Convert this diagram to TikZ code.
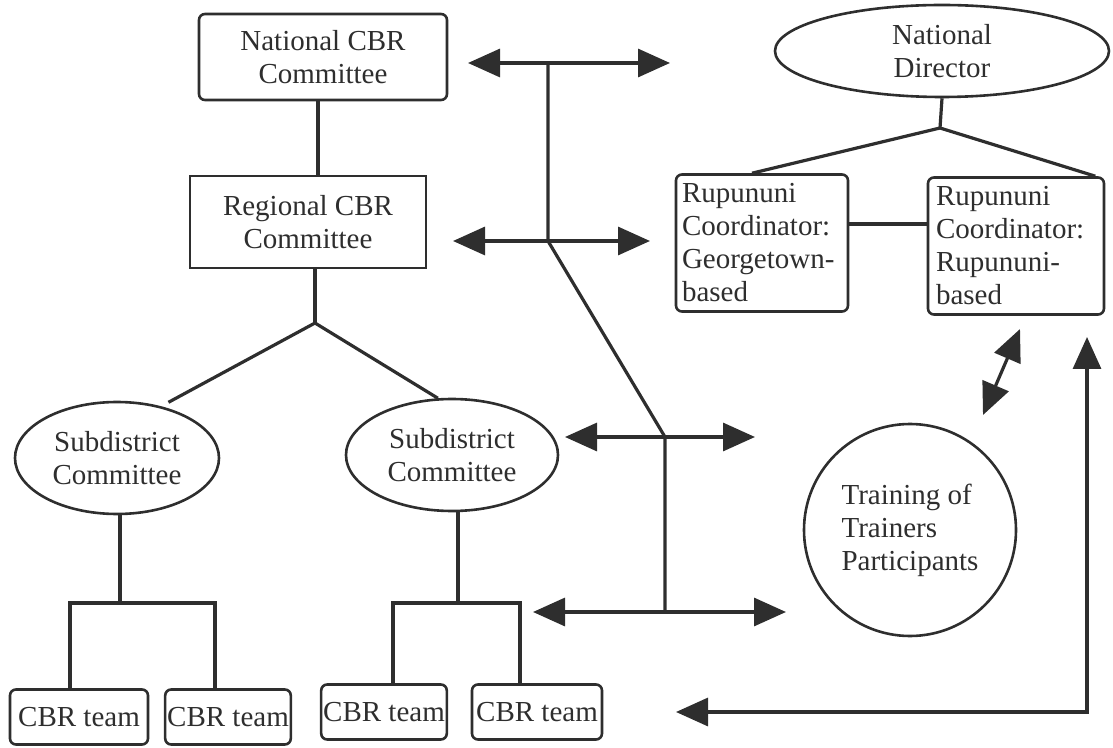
\documentclass[tikz,border=0pt]{standalone}
\usepackage{fontspec}
\setmainfont{Liberation Serif}
\usetikzlibrary{positioning,arrows.meta,shapes.geometric}
\definecolor{ink}{HTML}{2E2E2E}
\tikzset{
  orgbox/.style={rectangle,draw=ink,line width=1.3pt,rounded corners=3pt,align=center,inner sep=2pt},
  coordbox/.style={orgbox,align=left,text width=80pt,minimum height=68.5pt},
  teambox/.style={orgbox,minimum height=27.5pt,inner sep=1pt},
  orgoval/.style={ellipse,draw=ink,line width=1.3pt,align=center,inner sep=0pt},
  link/.style={draw=ink,line width=1.6pt},
  twoway/.style={link,{Triangle[length=16pt,width=14pt]}-{Triangle[length=16pt,width=14pt]}}
}

\begin{document}
\begin{tikzpicture}[x=0.5pt,y=-0.5pt,font=\fontsize{14.5}{16.5}\selectfont,text=ink]
  \useasboundingbox (0,0) rectangle (1113,748);
  % left hierarchy
  \node[orgbox,minimum width=124pt,minimum height=43pt] (ncc) at (323,57) {National CBR\\Committee};
  \node[orgbox,rounded corners=0pt,minimum width=118pt,minimum height=46pt] (rcc) at (308,222) {Regional CBR\\Committee};
  \node[orgoval,minimum width=102pt,minimum height=56pt] (sd1) at (117,458) {Subdistrict\\Committee};
  \node[orgoval,minimum width=106pt,minimum height=56pt] (sd2) at (452,455) {Subdistrict\\Committee};
  \node[teambox,minimum width=69pt] (t1) at (79,717) {CBR team};
  \node[teambox,minimum width=62pt] (t2) at (228,717) {CBR team};
  \node[teambox,minimum width=62pt] (t3) at (384,712) {CBR team};
  \node[teambox,minimum width=65pt] (t4) at (537,712) {CBR team};

  % right hierarchy
  \node[orgoval,minimum width=167pt,minimum height=46pt] (nd) at (942,51) {National\\Director};
  \node[coordbox,minimum width=86pt] (rgc) at (762,243) {Rupununi\\Coordinator:\\Georgetown-\\based};
  \node[coordbox,minimum width=88pt] (rrc) at (1016,246) {Rupununi\\Coordinator:\\Rupununi-\\based};
  \node[circle,draw=ink,line width=1.3pt,align=left,minimum size=106pt,inner sep=0pt] (tot) at (910,530) {Training of\\Trainers\\Participants};

  % junctions
  \coordinate (jr) at (315,323);
  \coordinate (br1) at (70,603);
  \coordinate (br2) at (215,603);
  \coordinate (br3) at (393,603);
  \coordinate (br4) at (520,603);
  \coordinate (jn) at (940,128);

  \draw[link] (ncc.south -| 318,0) -- (rcc.north -| 318,0);
  \draw[link] (rcc.south -| jr) -- (jr);
  \draw[link] (jr) -- ([shift={(0,-6)}]sd1.44);
  \draw[link] (jr) -- (sd2.104);
  \draw[link] (sd1.south -| 120,0) -- (120,603);
  \draw[link] (sd2.south -| 458,0) -- (458,603);
  \draw[link] (br1 |- t1.north) -- (br1) -- (br2) -- (br2 |- t2.north);
  \draw[link] (br3 |- t3.north) -- (br3) -- (br4) -- (br4 |- t4.north);

  \draw[link] (nd.south) -- (jn);
  \draw[link] (jn) -- (rgc.north -| 752,0);
  \draw[link] (jn) -- ([xshift=-5pt]rrc.north east);
  \draw[link] ([yshift=9.5pt]rgc.east) -- ([yshift=9.5pt]rgc.east -| rrc.west);

  % two-way arrows in the middle
  \coordinate (a1) at (548,63);
  \coordinate (a2) at (548,241);
  \coordinate (a3) at (665,437);
  \coordinate (a4) at (665,612);
  \draw[twoway] (468,63) -- (670,63);
  \draw[twoway] (453,241) -- (650,241);
  \draw[twoway] (565,437) -- (755,437);
  \draw[twoway] (533,612) -- (786,612);
  \draw[link] (a1) -- (a2) -- (a3) -- (a4);

  % feedback arrows
  \coordinate (d1) at (1020,329);
  \coordinate (d2) at (983,415);
  \draw[twoway] (d1) -- (d2);
  \coordinate (f1) at (1087,337);
  \coordinate (f2) at (1087,712);
  \coordinate (f3) at (676,712);
  \draw[twoway] (f1) -- (f2) -- (f3);
\end{tikzpicture}
\end{document}
